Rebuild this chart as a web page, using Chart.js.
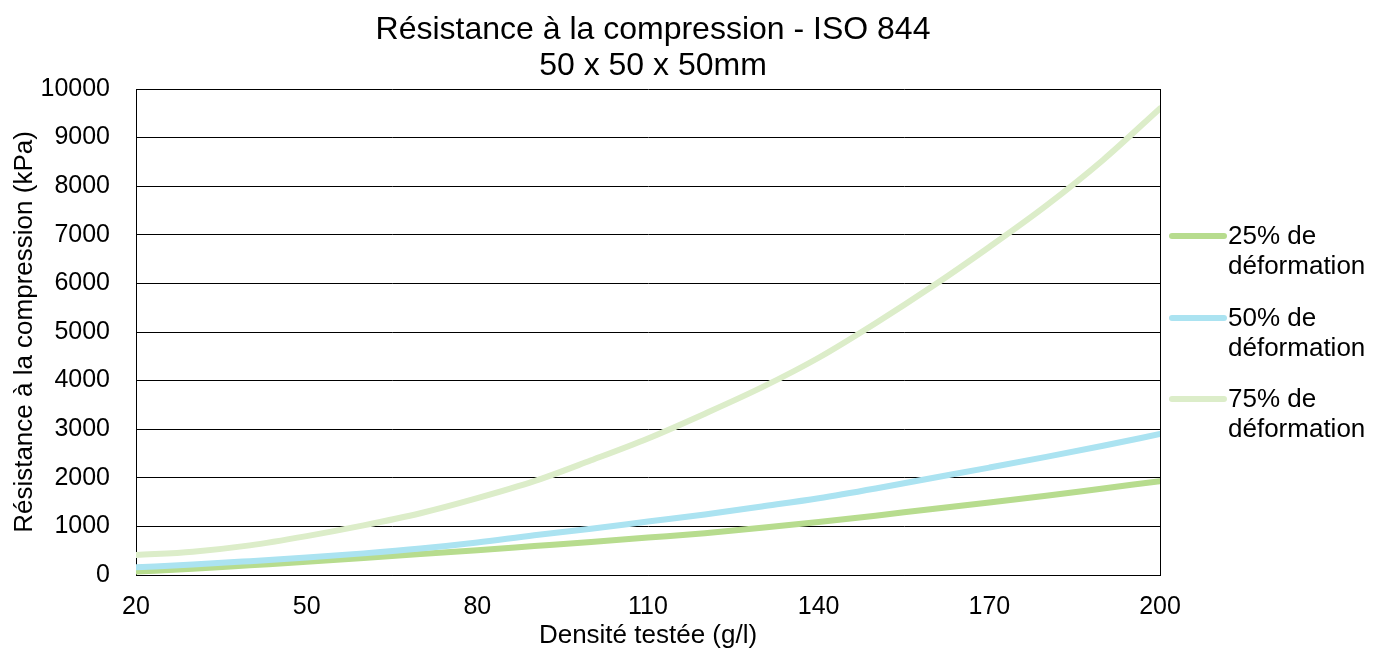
<!DOCTYPE html>
<html>
<head>
<meta charset="utf-8">
<script src="https://cdn.jsdelivr.net/npm/chart.js@4/dist/chart.umd.min.js"></script>
<style>
  html, body { margin: 0; padding: 0; background: #fff; }
  #wrap { width: 1373px; height: 650px; }
</style>
</head>
<body>
<div id="wrap"><canvas id="chart" width="1373" height="650"></canvas></div>
<script>
// densité testée (g/l)
const densities = [20, 30, 40, 50, 60, 70, 80, 90, 100, 110, 120, 130, 140, 150, 160, 170, 180, 190, 200];
// résistance (kPa)
const def25 = [70, 130, 200, 270, 350, 430, 510, 595, 680, 770, 860, 970, 1090, 1220, 1360, 1490, 1630, 1780, 1930];
const def50 = [158, 215, 285, 360, 445, 545, 670, 820, 950, 1100, 1245, 1410, 1580, 1780, 1995, 2210, 2430, 2660, 2900];
const def75 = [410, 480, 610, 800, 1020, 1270, 1580, 1930, 2360, 2810, 3320, 3860, 4470, 5180, 5940, 6750, 7600, 8540, 9600];

const seriesLabels = [['25% de', 'déformation'], ['50% de', 'déformation'], ['75% de', 'déformation']];
const titleLines = ['Résistance à la compression - ISO 844', '50 x 50 x 50mm'];
const xTitle = 'Densité testée (g/l)';
const yTitle = 'Résistance à la compression (kPa)';

const FONT = "'Liberation Sans', Arial, sans-serif";
const colors = ['#b7dc8e', '#abe3f1', '#dcedc9'];

function points(values) {
  return densities.map((d, i) => ({ x: d, y: values[i] }));
}

// titre et légende dessinés à la main (légende sur deux lignes)
const decorPlugin = {
  id: 'decor',
  afterDraw(chart) {
    const ctx = chart.ctx;
    const area = chart.chartArea;
    ctx.save();
    ctx.fillStyle = '#000';
    ctx.textAlign = 'center';
    ctx.textBaseline = 'middle';
    ctx.font = '32px ' + FONT;
    const cx = (area.left + area.right) / 2 + 5;
    ctx.fillText(titleLines[0], cx, 30);
    ctx.fillText(titleLines[1], cx, 66);

    // légende
    const legendY = [236, 318, 399];
    ctx.font = '26px ' + FONT;
    ctx.textAlign = 'left';
    chart.data.datasets.forEach((ds, i) => {
      const y = legendY[i];
      ctx.strokeStyle = ds.borderColor;
      ctx.lineWidth = 6;
      ctx.lineCap = 'round';
      ctx.beginPath();
      ctx.moveTo(area.right + 12, y);
      ctx.lineTo(area.right + 64, y);
      ctx.stroke();
      const lines = seriesLabels[i];
      ctx.fillText(lines[0], area.right + 68, y + 1);
      ctx.fillText(lines[1], area.right + 68, y + 31);
    });
    ctx.restore();
  }
};

new Chart(document.getElementById('chart').getContext('2d'), {
  type: 'line',
  data: {
    datasets: [
      { label: '25% de déformation', data: points(def25), borderColor: colors[0], order: 3 },
      { label: '50% de déformation', data: points(def50), borderColor: colors[1], order: 2 },
      { label: '75% de déformation', data: points(def75), borderColor: colors[2], order: 1 }
    ]
  },
  options: {
    responsive: false,
    animation: false,
    layout: { padding: { top: 89, right: 213, left: 0, bottom: 0 } },
    elements: {
      line: { borderWidth: 6, cubicInterpolationMode: 'monotone', fill: false, borderCapStyle: 'round' },
      point: { radius: 0, hoverRadius: 0 }
    },
    plugins: {
      legend: { display: false },
      title: { display: false },
      tooltip: { enabled: false }
    },
    scales: {
      x: {
        type: 'linear',
        min: 20,
        max: 200,
        ticks: { stepSize: 30, padding: 17, color: '#000', font: { family: FONT, size: 25 }, callback: (v) => String(v) },
        grid: {
          drawTicks: false,
          color: (c) => (c.tick && (c.tick.value === 20 || c.tick.value === 200)) ? '#000' : 'rgba(0,0,0,0)',
          lineWidth: 1
        },
        border: { display: true, color: '#000', width: 1 },
        title: {
          display: true,
          text: xTitle,
          color: '#000',
          font: { family: FONT, size: 26, lineHeight: 1 },
          padding: { top: 0, bottom: 1 }
        },
        afterFit(scale) { scale.height = 75; }
      },
      y: {
        min: 0,
        max: 10000,
        ticks: { stepSize: 1000, padding: 26, color: '#000', font: { family: FONT, size: 25 }, callback: (v) => String(v) },
        grid: { drawTicks: false, color: '#000', lineWidth: 1 },
        border: { display: true, color: '#000', width: 1 },
        title: {
          display: true,
          text: yTitle,
          color: '#000',
          font: { family: FONT, size: 26, lineHeight: 1 },
          padding: { top: 12, bottom: 0 }
        },
        afterFit(scale) { scale.width = 136; }
      }
    }
  },
  plugins: [decorPlugin]
});
</script>
</body>
</html>
